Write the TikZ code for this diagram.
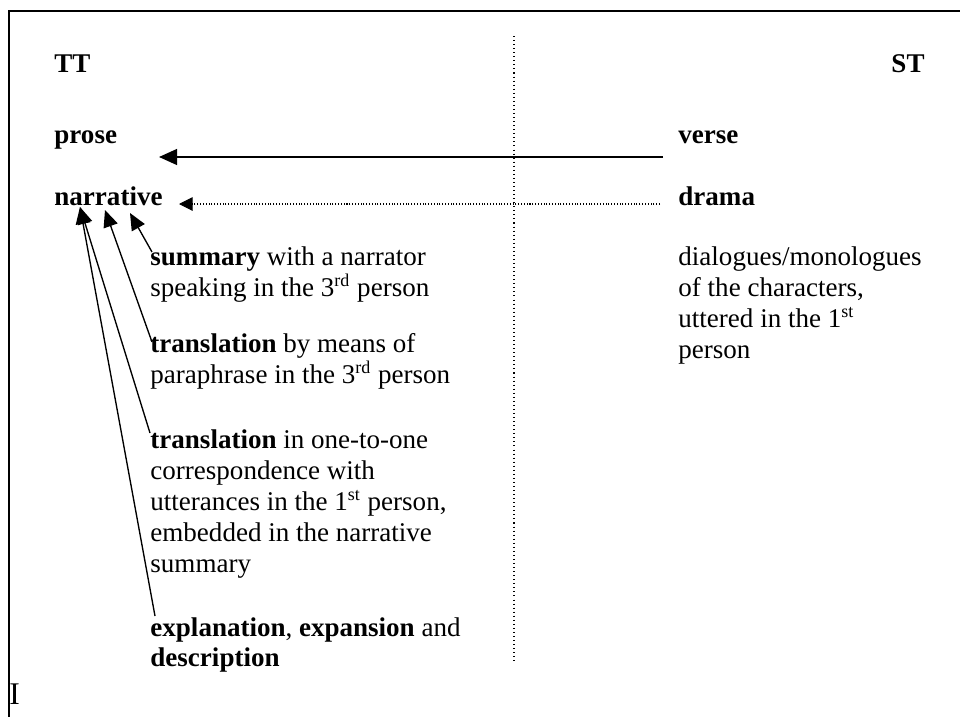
\documentclass[tikz,border=0pt]{standalone}
\usepackage{fontspec}
\setmainfont{Liberation Serif}
\usetikzlibrary{arrows.meta}
\begin{document}
\begin{tikzpicture}[x=0.444pt,y=-0.444pt,
  txt/.style={anchor=base west,inner sep=0pt,font=\fontsize{12}{13.8}\selectfont},
  hd/.style={txt,font=\fontsize{12}{13.8}\selectfont\bfseries},
  frame/.style={line width=0.7pt},
  mainarrow/.style={line width=0.9pt,-{Triangle[length=8pt,width=7pt]}},
  dotarrow/.style={line width=0.45pt,dash pattern=on 0.45pt off 0.8pt,-{Triangle[length=6pt,width=6pt,sep=0pt]}},
  divider/.style={line width=0.45pt,dash pattern=on 0.45pt off 1.35pt},
  diag/.style={line width=0.6pt,-{Triangle[length=7.5pt,width=6.5pt]}}]
\useasboundingbox (0,0) rectangle (960,717);
% frame
\draw[frame] (9,717) -- (9,11) -- (960,11);
% divider
\coordinate (dtop) at (514,36);
\coordinate (dbot) at (514,662);
\draw[divider] (dtop) -- (dbot);
% headings
\node[hd] (tt) at (54,72) {TT};
\node[hd,anchor=base east] (st) at (925,72) {ST};
\node[hd] (prose) at (54,143) {prose};
\node[hd] (verse) at (678,143) {verse};
\node[hd] (narr) at (54,205) {narrative};
\node[hd] (drama) at (678,205) {drama};
% left column
\node[txt] (a1) at (150,265) {\textbf{summary} with a narrator};
\node[txt] (a2) at (150,296) {speaking in the 3\textsuperscript{rd} person};
\node[txt] (b1) at (150,352) {\textbf{translation} by means of};
\node[txt] (b2) at (150,383) {paraphrase in the 3\textsuperscript{rd} person};
\node[txt] (c1) at (150,448) {\textbf{translation} in one-to-one};
\node[txt] (c2) at (150,479) {correspondence with};
\node[txt] (c3) at (150,510) {utterances in the 1\textsuperscript{st} person,};
\node[txt] (c4) at (150,541) {embedded in the narrative};
\node[txt] (c5) at (150,572) {summary};
\node[txt] (d1) at (150,636) {\textbf{explanation}, \textbf{expansion} and};
\node[txt] (d2) at (150,666) {\textbf{description}};
% right column
\node[txt] (r1) at (678,265) {dialogues/monologues};
\node[txt] (r2) at (678,296) {of the characters,};
\node[txt] (r3) at (678,327) {uttered in the 1\textsuperscript{st}};
\node[txt] (r4) at (678,358) {person};
% stray I
\node[anchor=base west,inner sep=0pt,font=\fontsize{14}{16}\selectfont] (ii) at (9,704) {I};
% horizontal arrows
\coordinate (vtail) at (663,157);
\coordinate (ptip) at (159,157);
\draw[mainarrow] (vtail) -- (ptip);
\coordinate (dtail) at (660,204);
\coordinate (ntip) at (179,204);
\draw[dotarrow] (dtail) -- (ntip);
% diagonal arrows
\coordinate (t1) at (80,207);
\coordinate (t2) at (105,210);
\coordinate (t3) at (130,213);
\coordinate (s1) at (152,252);
\coordinate (s2) at (152,342);
\coordinate (s3) at (150,433);
\coordinate (s4) at (155,616);
\draw[diag] (s1) -- (t3);
\draw[diag] (s2) -- (t2);
\draw[diag] (s3) -- (t1);
\draw[diag] (s4) -- (t1);
\end{tikzpicture}
\end{document}
